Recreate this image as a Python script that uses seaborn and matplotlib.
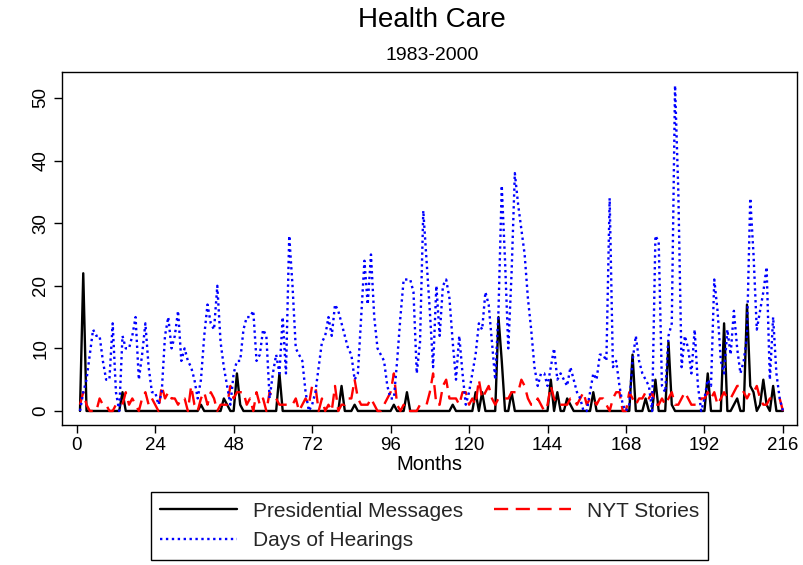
import matplotlib
matplotlib.use("Agg")
import matplotlib.pyplot as plt
import numpy as np
import pandas as pd
import seaborn as sns
from matplotlib.lines import Line2D

# Monthly counts, January 1983 (month 1) through December 2000 (month 216)
months = list(range(1, 217))

presidential = [
    0, 22, 0, 0, 0, 0, 0, 0, 0, 0, 0, 0, 0, 3, 0, 0, 0, 0, 0, 0, 0, 0, 0, 0,
    0, 0, 0, 0, 0, 0, 0, 0, 0, 0, 0, 0, 0, 1, 0, 0, 0, 0, 0, 0, 2, 1, 0, 0,
    6, 1, 0, 0, 0, 0, 0, 0, 0, 0, 0, 0, 0, 6, 0, 0, 0, 0, 0, 0, 0, 0, 0, 0,
    0, 0, 0, 0, 0, 0, 0, 0, 4, 0, 0, 0, 1, 0, 0, 0, 0, 0, 0, 0, 0, 0, 0, 0,
    1, 0, 0, 0, 3, 0, 0, 0, 0, 0, 0, 0, 0, 0, 0, 0, 0, 0, 1, 0, 0, 0, 0, 0,
    0, 3, 0, 3, 0, 0, 0, 0, 15, 8, 0, 0, 3, 0, 0, 0, 0, 0, 0, 0, 0, 0, 0, 0,
    5, 0, 3, 0, 0, 2, 1, 0, 0, 0, 0, 0, 0, 3, 0, 0, 0, 0, 0, 0, 0, 0, 0, 0,
    0, 9, 0, 0, 0, 2, 0, 0, 5, 0, 0, 0, 11, 1, 0, 0, 0, 0, 0, 0, 0, 0, 0, 0,
    6, 0, 0, 0, 0, 14, 0, 0, 1, 2, 0, 0, 17, 4, 3, 0, 1, 5, 1, 0, 4, 0, 0, 0,
]

nyt = [
    1, 3, 1, 0, 0, 0, 2, 1, 1, 0, 0, 1, 1, 1, 3, 1, 2, 1, 0, 2, 3, 1, 2, 1,
    0, 4, 2, 3, 2, 2, 1, 2, 2, 0, 4, 1, 0, 2, 3, 1, 3, 2, 0, 1, 1, 1, 4, 2,
    3, 3, 3, 1, 2, 0, 3, 1, 2, 0, 3, 2, 2, 1, 1, 1, 1, 1, 2, 0, 1, 2, 1, 4,
    4, 0, 2, 0, 1, 0, 4, 0, 1, 1, 2, 2, 5, 2, 1, 1, 1, 2, 1, 0, 0, 1, 2, 3,
    6, 1, 0, 1, 0, 0, 0, 0, 1, 1, 1, 3, 6, 1, 1, 4, 5, 2, 2, 2, 1, 3, 3, 1,
    2, 1, 5, 2, 3, 4, 2, 1, 2, 2, 2, 2, 3, 3, 3, 5, 4, 2, 1, 1, 2, 1, 0, 1,
    4, 2, 1, 1, 1, 1, 2, 2, 1, 2, 3, 1, 2, 2, 1, 2, 2, 1, 0, 2, 3, 3, 0, 0,
    3, 2, 1, 2, 2, 3, 2, 3, 1, 1, 2, 1, 2, 3, 1, 1, 2, 3, 2, 1, 1, 1, 2, 2,
    3, 2, 3, 1, 2, 3, 2, 2, 3, 4, 4, 3, 2, 3, 3, 4, 2, 1, 1, 2, 2, 2, 2, 0,
]

hearings = [
    0, 3, 5, 9, 13, 12, 12, 8, 5, 5, 14, 3, 0, 12, 10, 10, 12, 15, 5, 9, 14, 7, 3, 3,
    1, 3, 12, 15, 10, 12, 16, 8, 10, 8, 7, 5, 2, 5, 12, 17, 14, 13, 20, 11, 7, 4, 1, 6,
    8, 8, 13, 15, 15, 16, 8, 9, 13, 12, 2, 6, 9, 6, 15, 6, 28, 20, 10, 9, 8, 3, 0, 1,
    3, 7, 11, 12, 15, 12, 17, 16, 14, 12, 10, 9, 5, 6, 15, 24, 17, 25, 15, 10, 9, 8, 4, 2,
    2, 8, 15, 21, 21, 21, 19, 6, 11, 32, 24, 16, 7, 20, 12, 20, 21, 18, 11, 5, 12, 6, 1, 3,
    6, 9, 14, 13, 19, 17, 11, 5, 16, 36, 24, 10, 22, 38, 33, 29, 25, 18, 13, 7, 4, 6, 6, 4,
    7, 10, 5, 6, 5, 4, 7, 5, 3, 2, 0, 0, 3, 6, 5, 9, 9, 8, 34, 7, 8, 4, 1, 0,
    1, 8, 12, 8, 6, 5, 4, 0, 28, 27, 4, 3, 12, 14, 52, 35, 7, 12, 10, 6, 13, 4, 0, 2,
    5, 4, 21, 16, 8, 6, 13, 9, 16, 10, 6, 8, 12, 34, 25, 13, 16, 19, 23, 5, 15, 6, 2, 0,
]

series_names = ["Presidential Messages", "NYT Stories", "Days of Hearings"]
x_ticks = list(range(0, 217, 24))
y_ticks = list(range(0, 51, 10))

df = pd.DataFrame({
    "month": months * 3,
    "value": presidential + nyt + hearings,
    "series": [series_names[0]] * 216 + [series_names[1]] * 216 + [series_names[2]] * 216,
})

sns.set_theme(style="white")
plt.rcParams["font.family"] = ["Liberation Sans", "DejaVu Sans"]

palette = {"Presidential Messages": "black", "NYT Stories": "red", "Days of Hearings": "blue"}
dashes = {"Presidential Messages": "", "NYT Stories": (6.0, 3.2), "Days of Hearings": (1, 1.5)}
lw = 1.7

fig = plt.figure(figsize=(8.04, 5.65), dpi=100)
fig.patch.set_facecolor("white")
ax = fig.add_axes([62 / 804, 1 - 425 / 565, 735 / 804, 353 / 565])

sns.lineplot(data=df, x="month", y="value", hue="series", style="series",
             hue_order=series_names, style_order=series_names,
             palette=palette, dashes=dashes, estimator=None,
             linewidth=lw, legend=False, ax=ax)

ax.set_xlim(-4.5, 220.3)
ax.set_ylim(-2.24, 54.15)
ax.set_xticks(x_ticks)
ax.set_yticks(y_ticks)
ax.tick_params(axis="both", direction="out", length=6, width=1, color="black",
               labelsize=13.5, labelcolor="black", bottom=True, left=True, pad=3)
for lab in ax.get_yticklabels():
    lab.set_rotation(90)
    lab.set_va("center")
for sp in ax.spines.values():
    sp.set_visible(True)
    sp.set_color("black")
    sp.set_linewidth(1.0)
ax.set_xlabel("Months", fontsize=14.5, color="black", labelpad=0)
ax.set_ylabel("")
ax.grid(False)

fig.text(432 / 804, 1 - 20 / 565, "Health Care", ha="center", va="center", fontsize=20, color="black")
fig.text(432 / 804, 1 - 55 / 565, "1983-2000", ha="center", va="center", fontsize=14, color="black")

handles = [
    Line2D([], [], color="black", lw=lw),
    Line2D([], [], color="blue", lw=lw, dashes=dashes["Days of Hearings"]),
    Line2D([], [], color="red", lw=lw, dashes=dashes["NYT Stories"]),
]
labels = ["Presidential Messages", "Days of Hearings", "NYT Stories"]
leg = fig.legend(handles, labels, ncol=2, loc="center",
                 bbox_to_anchor=(429.5 / 804, 1 - 526 / 565),
                 frameon=True, fancybox=False, edgecolor="black", framealpha=1,
                 fontsize=15, handlelength=3.7, handletextpad=0.75,
                 columnspacing=1.5, labelspacing=0.5, borderpad=0.45)
leg.get_frame().set_linewidth(1.0)

fig.savefig("out.png", dpi=100, facecolor="white")
